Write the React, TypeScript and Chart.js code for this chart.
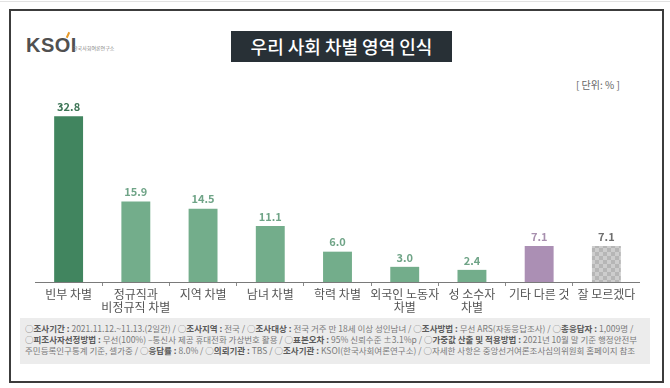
import React, { useEffect, useRef } from "react";
import { Chart, registerables } from "chart.js";

Chart.register(...registerables);

const categories: string[][] = [
  ["빈부 차별"],
  ["정규직과", "비정규직 차별"],
  ["지역 차별"],
  ["남녀 차별"],
  ["학력 차별"],
  ["외국인 노동자", "차별"],
  ["성 소수자", "차별"],
  ["기타 다른 것"],
  ["잘 모르겠다"],
];
const values: number[] = [32.8, 15.9, 14.5, 11.1, 6.0, 3.0, 2.4, 7.1, 7.1];
const barColors: string[] = [
  "#41855f", "#73ad8b", "#73ad8b", "#73ad8b", "#73ad8b", "#73ad8b", "#73ad8b", "#ab8fb4", "pattern",
];
const labelColors: string[] = [
  "#3d7556", "#6fa487", "#6fa487", "#6fa487", "#6fa487", "#6fa487", "#6fa487", "#a78fae", "#6e6e6e",
];
const yMax = 36;

const title = "우리 사회 차별 영역 인식";
const unitText = "[ 단위: % ]";

const footerLines: { b?: boolean; t: string }[][] = [
  [
    { t: "○" }, { b: true, t: "조사기간 : " }, { t: "2021.11.12.~11.13.(2일간)  /  ○" },
    { b: true, t: "조사지역 : " }, { t: "전국 / ○" }, { b: true, t: "조사대상 : " },
    { t: "전국 거주 만 18세 이상 성인남녀 / ○" }, { b: true, t: "조사방법 : " },
    { t: "무선 ARS(자동응답조사) / ○" }, { b: true, t: "총응답자 : " }, { t: "1,009명 /" },
  ],
  [
    { t: "○" }, { b: true, t: "피조사자선정방법 : " }, { t: "무선(100%) –통신사 제공 휴대전화 가상번호 활용 / ○" },
    { b: true, t: "표본오차 : " }, { t: "95% 신뢰수준 ±3.1%p / ○" },
    { b: true, t: "가중값 산출 및 적용방법 : " }, { t: "2021년 10월 말 기준 행정안전부" },
  ],
  [
    { t: "주민등록인구통계 기준, 셀가중 / ○" }, { b: true, t: "응답률 : " }, { t: "8.0% / ○" },
    { b: true, t: "의뢰기관 : " }, { t: "TBS / ○" }, { b: true, t: "조사기관 : " },
    { t: "KSOI(한국사회여론연구소) / ○자세한 사항은 중앙선거여론조사심의위원회 홈페이지 참조" },
  ],
];

const FONT = "'Noto Sans CJK KR', 'Noto Sans', sans-serif";

function makePattern(): CanvasPattern | string {
  const c = document.createElement("canvas");
  c.width = 8;
  c.height = 8;
  const ctx = c.getContext("2d");
  if (!ctx) return "#c4c4c4";
  ctx.fillStyle = "#cdcdcd";
  ctx.fillRect(0, 0, 8, 8);
  ctx.fillStyle = "#b6b6b6";
  ctx.fillRect(0, 0, 4, 4);
  ctx.fillRect(4, 4, 4, 4);
  const p = ctx.createPattern(c, "repeat");
  return p || "#c4c4c4";
}

const valueLabelPlugin = {
  id: "valueLabels",
  afterDatasetsDraw(chart: any) {
    const ctx = chart.ctx;
    const meta = chart.getDatasetMeta(0);
    ctx.save();
    ctx.font = `bold 11px ${FONT}`;
    ctx.textAlign = "center";
    ctx.textBaseline = "bottom";
    meta.data.forEach((bar: any, i: number) => {
      ctx.fillStyle = labelColors[i];
      ctx.fillText(values[i].toFixed(1), bar.x, bar.y - 4);
    });
    ctx.restore();
  },
};

export default function App() {
  const ref = useRef<HTMLCanvasElement>(null);
  useEffect(() => {
    if (!ref.current) return;
    const pattern = makePattern();
    const colors = barColors.map((c) => (c === "pattern" ? pattern : c));
    const chart = new Chart(ref.current, {
      type: "bar",
      data: {
        labels: categories,
        datasets: [
          {
            data: values,
            backgroundColor: colors as any,
            barPercentage: 0.43,
            categoryPercentage: 1,
          },
        ],
      },
      options: {
        animation: false,
        responsive: false,
        maintainAspectRatio: false,
        layout: { padding: 0 },
        plugins: { legend: { display: false }, tooltip: { enabled: false } },
        scales: {
          x: {
            grid: {
              offset: true,
              drawOnChartArea: false,
              drawTicks: true,
              tickLength: 4,
              color: "#8a8a8a",
            },
            border: { display: true, color: "#7a7a7a", width: 1 },
            ticks: {
              padding: 2,
              color: "#555555",
              font: { family: FONT, size: 12, lineHeight: 1.1 },
              maxRotation: 0,
              autoSkip: false,
            },
            afterFit: (scale: any) => {
              scale.height = 40;
            },
          },
          y: { display: false, min: 0, max: yMax },
        },
      },
      plugins: [valueLabelPlugin],
    });
    return () => chart.destroy();
  }, []);

  return (
    <div style={{ position: "fixed", left: 0, top: 0, width: 670, height: 388, background: "#fff", fontFamily: FONT, overflow: "hidden" }}>
      <div style={{ position: "absolute", left: 0, top: 1, width: 670, height: 1, background: "#e2e2e2" }} />
      <div style={{ position: "absolute", left: 9, top: 9, width: 651, height: 370, border: "2px solid #3c3c3c", boxSizing: "content-box" }} />
      {/* logo */}
      <div style={{ position: "absolute", left: 26, top: 34, height: 22, fontFamily: "'Liberation Sans', sans-serif", fontWeight: 700, fontSize: 20, color: "#505050", letterSpacing: 0.5, lineHeight: "22px" }}>
        KSOI
      </div>
      <div style={{ position: "absolute", left: 67, top: 32, width: 2, height: 6, background: "#e89a2a", transform: "rotate(25deg)" }} />
      <div style={{ position: "absolute", left: 73, top: 44, fontSize: 5, color: "#808080", whiteSpace: "nowrap", lineHeight: "7px" }}>
        한국사회여론연구소
      </div>
      {/* title */}
      <div style={{ position: "absolute", left: 231, top: 31, width: 221, height: 31, background: "#283036", color: "#fff", fontSize: 18, fontWeight: 500, textAlign: "center", lineHeight: "31px", whiteSpace: "nowrap" }}>
        {title}
      </div>
      <div style={{ position: "absolute", left: 576, top: 78, fontSize: 10, color: "#666", whiteSpace: "nowrap", lineHeight: "14px" }}>
        {unitText}
      </div>
      <canvas ref={ref} width={605} height={222} style={{ position: "absolute", left: 35, top: 100, width: 605, height: 222 }} />
      {/* footer */}
      <div style={{ position: "absolute", left: 20, top: 318, width: 630, height: 46, background: "#ececec" }} />
      {footerLines.map((line, i) => (
        <div key={i} style={{ position: "absolute", left: 25, top: 323 + i * 11, fontSize: 8.5, lineHeight: "11px", color: "#7a7a7a", whiteSpace: "nowrap" }}>
          {line.map((s, j) => (
            <span key={j} style={s.b ? { fontWeight: 700, color: "#5a5a5a" } : undefined}>{s.t}</span>
          ))}
        </div>
      ))}
    </div>
  );
}
